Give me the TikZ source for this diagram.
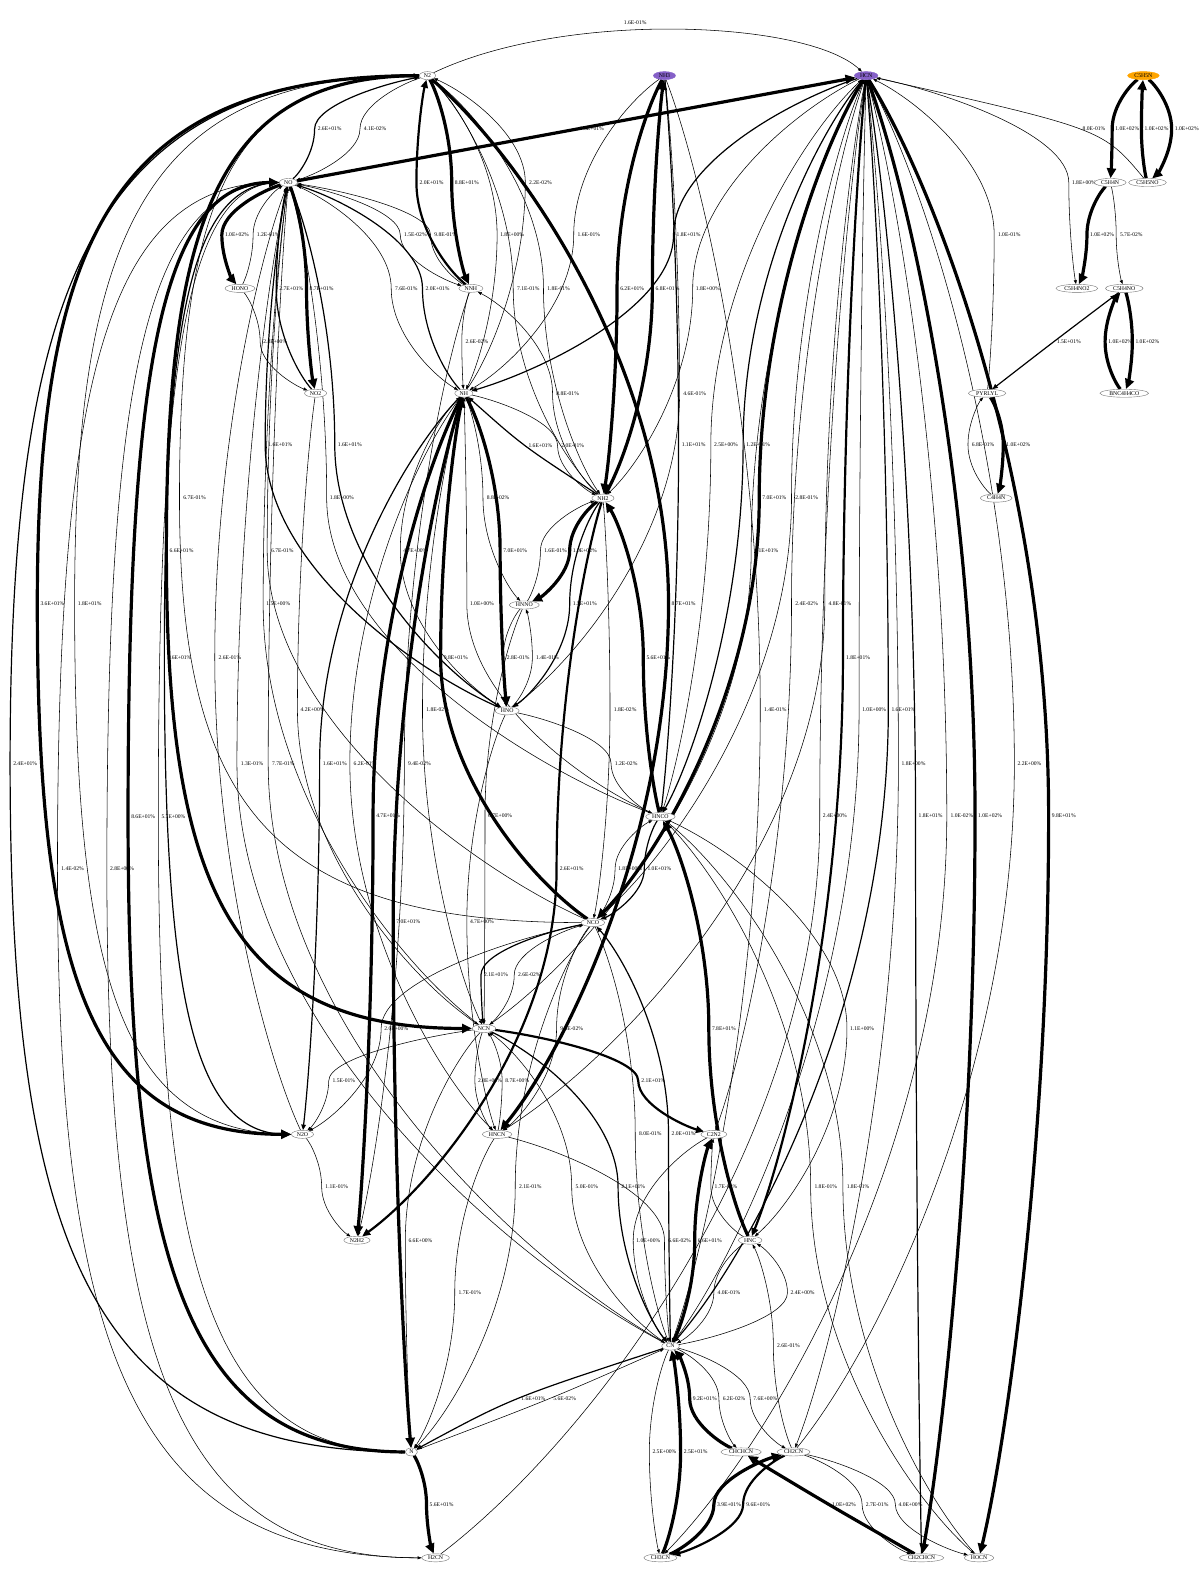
\documentclass[tikz,border=0pt]{standalone}
\usepackage{fontspec}
\setmainfont{Liberation Serif}
\usetikzlibrary{shapes.geometric,arrows.meta,calc}
\pgfdeclarelayer{bg}
\pgfsetlayers{bg,main}
\definecolor{npurple}{HTML}{8560C8}
\definecolor{norange}{HTML}{FFA500}
\tikzset{
 nd/.style={ellipse, draw=black!55, line width=0.4pt, fill=white, inner xsep=2.2pt, inner ysep=0.9pt, font=\fontsize{5.8}{6}\selectfont},
 pnd/.style={nd, fill=npurple, draw=npurple},
 ond/.style={nd, fill=norange, draw=norange},
 lab/.style={font=\fontsize{5.6}{6}\selectfont, inner sep=0pt},
 edge/.style={line width=0.55pt, -{Triangle[length=4pt,width=3pt]}},
 med/.style={line width=1.2pt, -{Triangle[length=5.5pt,width=4.5pt]}},
 thk/.style={line width=2.2pt, -{Triangle[length=8pt,width=7pt]}},
 vthk/.style={line width=3.2pt, -{Triangle[length=10pt,width=9pt]}},
}
% dot-like edge through the point just left of its label
\newcommand\E[5][]{\path (#5) ++(-15,0) coordinate (vv);
  \draw[edge,#1] (#2) .. controls ($(#2)!0.45!(vv|-#2)!0.15!(#2|-vv)$) and ($(vv)!0.45!(vv|-#2)$) .. (vv)
    .. controls ($(vv)!0.45!(vv|-#3)$) and ($(#3)!0.45!(vv|-#3)!0.15!(#3|-vv)$) .. (#3);
  \node[lab] at (#5) {#4};}
% edge leaving and entering sideways (long outer routes)
\newcommand\EL[5][]{\path (#5) ++(-15,0) coordinate (vv);
  \draw[edge,#1] (#2) .. controls ($(#2)!0.8!(vv|-#2)$) and ($(vv)!0.7!(vv|-#2)$) .. (vv)
    .. controls ($(vv)!0.7!(vv|-#3)$) and ($(#3)!0.8!(vv|-#3)$) .. (#3);
  \node[lab] at (#5) {#4};}
% single-bend edge
\newcommand\Es[5][]{\path (#5) ++(-15,0) coordinate (vv);
  \path ($(#2)!0.5!(#3)$) coordinate (mm);
  \draw[edge,#1] (#2) .. controls ($(vv)!-0.3333!(mm)$) .. (#3);
  \node[lab] at (#5) {#4};}
\begin{document}
\begin{tikzpicture}[x=1.0084pt,y=1.0084pt]
\useasboundingbox (0,0) rectangle (1190,-1568);
\begin{pgfonlayer}{bg}
\fill[white] (0,0) rectangle (1190,-1568);
\end{pgfonlayer}
% nodes
\node[nd] (N2) at (424,-75) {N2};
\node[pnd] (NH3) at (659,-75) {NH3};
\node[pnd] (HCN) at (859,-75) {HCN};
\node[ond] (C5H5N) at (1134,-75) {C5H5N};
\node[nd] (NO) at (286,-181) {NO};
\node[nd] (C5H4N) at (1101,-181) {C5H4N};
\node[nd] (C5H5NO) at (1138,-181) {C5H5NO};
\node[nd] (HONO) at (238,-286) {HONO};
\node[nd] (NNH) at (467,-286) {NNH};
\node[nd] (C5H4NO2) at (1068,-286) {C5H4NO2};
\node[nd] (C5H4NO) at (1115,-286) {C5H4NO};
\node[nd] (NO2) at (313,-390) {NO2};
\node[nd] (NH) at (460,-390) {NH};
\node[nd] (PYRLYL) at (979,-390) {PYRLYL};
\node[nd] (BNC4H4CO) at (1115,-390) {BNC4H4CO};
\node[nd] (NH2) at (598,-494) {NH2};
\node[nd] (C4H4N) at (988,-494) {C4H4N};
\node[nd] (HNNO) at (520,-600) {HNNO};
\node[nd] (HNO) at (503,-705) {HNO};
\node[nd] (HNCO) at (655,-810) {HNCO};
\node[nd] (NCO) at (588,-915) {NCO};
\node[nd] (NCN) at (480,-1020) {NCN};
\node[nd] (N2O) at (300,-1125) {N2O};
\node[nd] (HNCN) at (493,-1125) {HNCN};
\node[nd] (C2N2) at (708,-1125) {C2N2};
\node[nd] (N2H2) at (354,-1230) {N2H2};
\node[nd] (HNC) at (744,-1230) {HNC};
\node[nd] (CN) at (665,-1335) {CN};
\node[nd] (N) at (408,-1440) {N};
\node[nd] (CHCHCN) at (735,-1440) {CHCHCN};
\node[nd] (CH2CN) at (787,-1440) {CH2CN};
\node[nd] (H2CN) at (432,-1545) {H2CN};
\node[nd] (CH3CN) at (655,-1545) {CH3CN};
\node[nd] (CH2CHCN) at (914,-1545) {CH2CHCN};
\node[nd] (HOCN) at (971,-1545) {HOCN};
\begin{pgfonlayer}{bg}
% top
\draw[edge] (N2) .. controls (560,-10) and (800,-20) .. (HCN);
\node[lab] at (630,-22) {1.6E-01\%};
\E[med]{NO}{N2}{2.6E+01\%}{327,-128}
\E{N2}{NO}{4.1E-02\%}{372,-128}
\Es[vthk]{NO}{HCN}{1.6E+01\%}{587,-128}
\Es{C5H5NO}{HCN}{8.0E-01\%}{1085,-128}
\E[vthk]{C5H5N}{C5H4N}{1.0E+02\%}{1118,-128}
\E[vthk]{C5H5NO}{C5H5N}{1.0E+02\%}{1147,-128}
\E[vthk]{C5H5N}{C5H5NO}{1.0E+02\%}{1177,-128}
% row 181
\E[thk]{NNH}{N2}{2.0E+01\%}{428,-181}
\E[vthk]{N2}{NNH}{8.8E+01\%}{463,-181}
\E{NH}{N2}{2.2E-02\%}{536,-181}
\E{HCN}{C5H4NO2}{1.8E+00\%}{1075,-181}
% row 233
\E[vthk]{NO}{HONO}{1.0E+02\%}{235,-233}
\E{HONO}{NO}{1.2E-01\%}{266,-233}
\E{NO}{NNH}{1.5E-02\%}{412,-233}
\E{NNH}{NO}{9.8E-01\%}{442,-233}
\E{N2}{NH}{1.8E+00\%}{508,-233}
\E{NH3}{NH}{1.6E-01\%}{584,-233}
\E[med]{HCN}{NH}{1.8E+01\%}{683,-233}
\E{PYRLYL}{HCN}{1.0E-01\%}{1001,-233}
\E[vthk]{C5H4N}{C5H4NO2}{1.0E+02\%}{1093,-233}
\E{C5H4N}{C5H4NO}{5.7E-02\%}{1122,-233}
% row 286
\E[med]{NO2}{NO}{2.7E+01\%}{289,-286}
\E[vthk]{NO}{NO2}{8.7E+01\%}{319,-286}
\E{NO}{NH}{7.6E-01\%}{403,-286}
\E[med]{NH}{NO}{2.0E+01\%}{434,-286}
\E{NH2}{N2}{7.1E-01\%}{524,-286}
\E{N2}{NH2}{1.8E-01\%}{554,-286}
\E[vthk]{NH3}{NH2}{6.2E+01\%}{627,-286}
\E[vthk]{NH2}{NH3}{6.8E+01\%}{662,-286}
\E{HCN}{NH2}{1.8E+00\%}{702,-286}
% row 339
\E{HONO}{NO2}{2.8E+00\%}{273,-339}
\E{NNH}{NH}{2.6E-02\%}{473,-339}
\Es[med]{C5H4NO}{PYRLYL}{1.5E+01\%}{1060,-339}
\E[vthk]{BNC4H4CO}{C5H4NO}{1.0E+02\%}{1111,-339}
\E[vthk]{C5H4NO}{BNC4H4CO}{1.0E+02\%}{1138,-339}
% row 390
\E{NH2}{NNH}{8.8E-01\%}{563,-390}
\E{NH3}{HNO}{4.6E-01\%}{689,-390}
% row 441
\E[med]{HNO}{NO}{1.6E+01\%}{278,-441}
\E[med]{NO}{HNO}{1.6E+01\%}{347,-441}
\Es[med]{NH2}{NH}{1.6E+01\%}{536,-442}
\E{NH}{NH2}{2.0E-01\%}{568,-442}
\E[med]{NH3}{HNCO}{1.1E+01\%}{688,-441}
\E{HNCO}{HCN}{2.5E+00\%}{720,-441}
\E[med]{HCN}{HNCO}{1.2E+01\%}{752,-441}
\E{C4H4N}{PYRLYL}{6.8E-01\%}{975,-441}
\E[vthk]{PYRLYL}{C4H4N}{1.0E+02\%}{1010,-441}
% row 494
\EL{NCO}{N2}{6.7E-01\%}{193,-494}
\E{HNCO}{NO}{1.8E+00\%}{339,-494}
\E{NH}{HNNO}{8.8E-02\%}{494,-494}
\E[vthk]{HCN}{NCO}{7.0E+01\%}{768,-494}
\E{NCO}{HCN}{2.8E-01\%}{800,-494}
% row 546
\EL[vthk]{N2}{NCN}{6.6E+01\%}{180,-546}
\E{NCO}{NO}{6.7E-01\%}{280,-546}
\E{HNO}{NH}{4.7E+00\%}{412,-546}
\E[vthk]{NH}{HNO}{7.0E+01\%}{511,-546}
\E{HNNO}{NH2}{1.6E-01\%}{551,-546}
\E[vthk]{NH2}{HNNO}{1.0E+02\%}{580,-546}
\E{HCN}{NCN}{1.1E+01\%}{760,-546}
% row 599
\EL[vthk]{N2}{N2O}{3.6E+01\%}{52,-599}
\EL{N2O}{N2}{1.8E+01\%}{89,-599}
\E{NCN}{NO}{1.5E+00\%}{276,-599}
\E{HNCO}{NH}{1.0E+00\%}{478,-599}
\E[med]{NH2}{HNO}{1.5E+01\%}{580,-599}
\E[vthk]{N2}{HNCN}{8.7E+01\%}{678,-599}
\E{HCN}{C2N2}{2.4E-02\%}{800,-599}
\E{HCN}{HNCN}{4.8E-01\%}{833,-599}
% row 652
\EL[med]{NO}{N2O}{1.6E+01\%}{178,-652}
\E{N2O}{NO}{2.6E-01\%}{228,-652}
\E[vthk]{NCO}{NH}{9.8E+01\%}{452,-652}
\E{HNNO}{HNO}{2.8E-01\%}{514,-652}
\E{HNO}{HNNO}{1.4E-01\%}{543,-652}
\E[vthk]{HNCO}{NH2}{5.6E+01\%}{653,-652}
\E[thk]{HCN}{HNC}{1.8E+01\%}{851,-652}
% row 704
\E{NO2}{NCN}{4.2E+00\%}{310,-704}
\E{NH}{NCN}{1.8E-02\%}{434,-704}
\E{NH2}{NCO}{1.8E-02\%}{620,-704}
\E{NH3}{CN}{1.4E-01\%}{769,-704}
\E{CN}{HCN}{1.0E+00\%}{867,-704}
\E[med]{HCN}{CN}{1.6E+01\%}{896,-704}
% row 757
\EL[med]{N}{N2}{2.4E+01\%}{25,-757}
\E{CN}{NO}{1.3E-01\%}{250,-757}
\E{NO}{CN}{7.7E-01\%}{281,-757}
\E[med]{NH}{N2O}{1.6E+01\%}{332,-757}
\E{NH}{HNCN}{6.2E-01\%}{362,-757}
\E{NNH}{N2H2}{9.4E-02\%}{416,-757}
\E{HNO}{HNCO}{1.2E-02\%}{621,-757}
\E{HCN}{CH2CN}{1.8E+00\%}{906,-757}
\E{CH2CN}{HCN}{2.2E+00\%}{1021,-757}
% row 809
\EL[vthk]{N}{NO}{8.6E+01\%}{142,-810}
\EL{NO}{N}{5.7E+00\%}{172,-810}
\E[vthk]{NH}{N2H2}{4.7E+01\%}{385,-809}
\E{HNNO}{NCN}{6.7E+00\%}{496,-809}
\E{H2CN}{HCN}{2.4E+00\%}{828,-809}
\E[med]{CH2CHCN}{HCN}{1.8E+01\%}{923,-809}
\E{HCN}{CH3CN}{1.0E-02\%}{954,-809}
\E[vthk]{HCN}{CH2CHCN}{1.0E+02\%}{982,-809}
\E[vthk]{HCN}{HOCN}{9.8E+01\%}{1055,-809}
% row 862
\EL{H2CN}{NO}{1.4E-02\%}{72,-862}
\EL{NO}{H2CN}{2.8E+00\%}{121,-862}
\E[thk]{NH2}{N2H2}{2.6E+01\%}{567,-862}
\E{NCO}{HNCO}{1.8E+00\%}{625,-862}
\E[med]{HNCO}{NCO}{1.0E+01\%}{654,-862}
% row 915
\E[vthk]{NH}{N}{7.0E+01\%}{405,-914}
\E{HNO}{HNCN}{4.7E+00\%}{478,-914}
% row 967
\E[med]{NCO}{NCN}{2.1E+01\%}{492,-967}
\E{NCN}{NCO}{2.6E-02\%}{525,-967}
% row 1020
\E{NCO}{N2O}{2.0E+00\%}{393,-1020}
\E{NCO}{HNCN}{9.5E-02\%}{567,-1020}
\E[vthk]{HNC}{HNCO}{7.8E+01\%}{718,-1020}
\E{HNCO}{HNC}{1.1E+00\%}{855,-1020}
% row 1072
\E{NCN}{N2O}{1.5E-01\%}{341,-1072}
\E{NCN}{HNCN}{2.8E+00\%}{486,-1072}
\E{HNCN}{NCN}{8.7E+00\%}{513,-1072}
\E[thk]{NCN}{C2N2}{2.1E+01\%}{648,-1072}
% row 1125
\E{NCO}{CN}{8.0E-01\%}{645,-1124}
\E[med]{CN}{NCO}{2.0E+01\%}{678,-1124}
% row 1177
\E{N2O}{N2H2}{1.1E-01\%}{334,-1177}
\E{NCO}{N}{2.1E-01\%}{526,-1177}
\E{CN}{NCN}{5.0E-01\%}{582,-1177}
\E[med]{NCN}{CN}{2.1E+01\%}{628,-1177}
\E{HNC}{C2N2}{1.7E-01\%}{720,-1177}
\E{HNCO}{HOCN}{1.8E-01\%}{819,-1177}
\E{HOCN}{HNCO}{1.8E-01\%}{851,-1177}
% row 1230
\E{NCN}{N}{6.6E+00\%}{417,-1230}
\E{C2N2}{CN}{1.0E+00\%}{643,-1230}
\E{HNCN}{CN}{6.6E-02\%}{674,-1230}
\E[vthk]{CN}{C2N2}{6.6E+01\%}{704,-1230}
% row 1282
\E{HNCN}{N}{1.7E-01\%}{466,-1282}
\E{HNC}{CN}{4.0E-01\%}{723,-1282}
\E{CN}{HNC}{2.4E+00\%}{796,-1282}
% row 1335
\E{CH2CN}{HNC}{2.6E-01\%}{782,-1335}
% row 1387
\Es[med]{CN}{N}{1.6E+01\%}{529,-1387}
\Es{N}{CN}{5.6E-02\%}{560,-1387}
\E[vthk]{CHCHCN}{CN}{9.2E+01\%}{699,-1387}
\E{CN}{CHCHCN}{6.2E-02\%}{728,-1387}
\E{CN}{CH2CN}{7.6E+00\%}{759,-1387}
% row 1440
\E{CN}{CH3CN}{2.5E+00\%}{659,-1440}
\E[vthk]{CH3CN}{CN}{2.5E+01\%}{690,-1440}
% row 1492
\E[vthk]{N}{H2CN}{5.6E+01\%}{438,-1492}
\E[vthk]{CH3CN}{CH2CN}{3.9E+01\%}{723,-1492}
\E[thk]{CH2CN}{CH3CN}{9.6E+01\%}{752,-1492}
\Es[vthk]{CH2CHCN}{CHCHCN}{1.0E+02\%}{837,-1492}
\E{CH2CN}{CH2CHCN}{2.7E-01\%}{870,-1492}
\E{CH2CN}{HOCN}{4.0E+00\%}{903,-1492}
\end{pgfonlayer}
\end{tikzpicture}
\end{document}
